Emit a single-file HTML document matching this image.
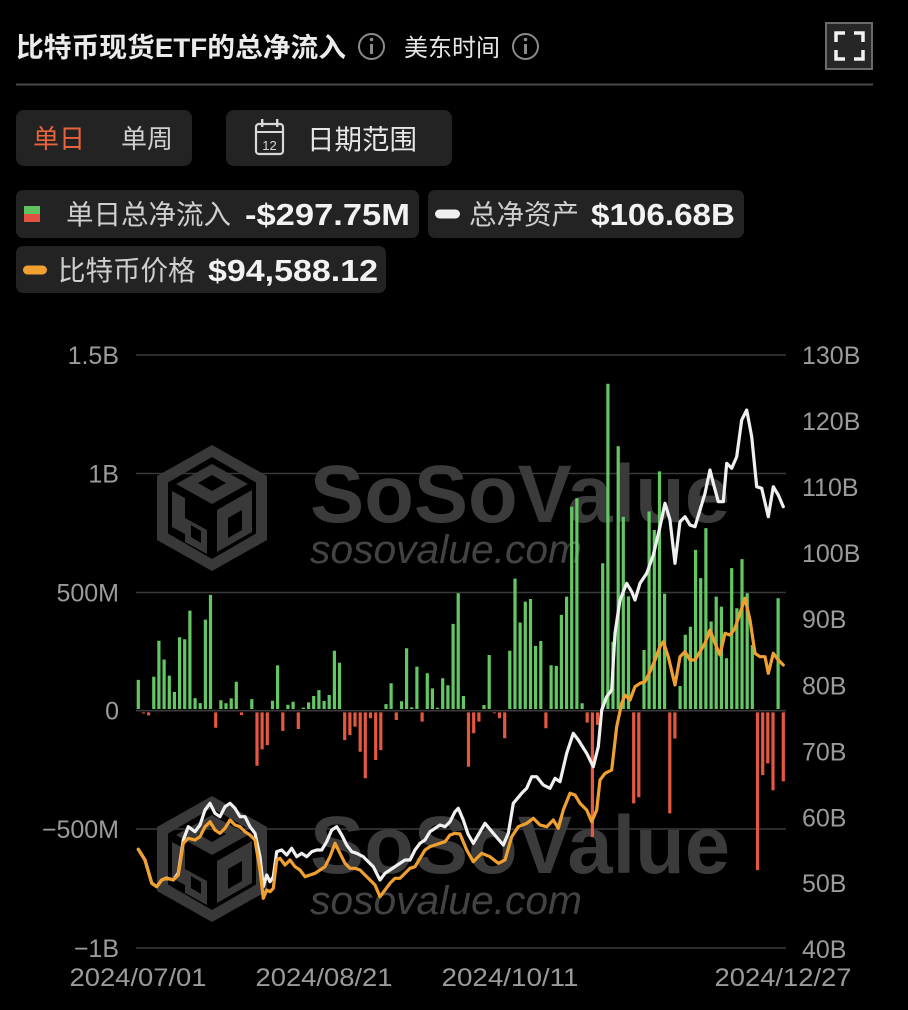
<!DOCTYPE html>
<html><head><meta charset="utf-8"><style>
html,body{margin:0;padding:0;background:#000;}
svg{display:block;}
</style></head><body>
<svg width="908" height="1010" viewBox="0 0 908 1010" xmlns="http://www.w3.org/2000/svg" font-family="'Liberation Sans','Noto Sans CJK SC',sans-serif">
<rect width="908" height="1010" fill="#000"/>
<!-- header -->
<text x="16" y="57" font-size="27" font-weight="bold" fill="#ebebeb" textLength="330" lengthAdjust="spacingAndGlyphs">比特币现货ETF的总净流入</text>
<circle cx="371.5" cy="46.5" r="12.5" fill="none" stroke="#8a8a8a" stroke-width="2"/>
<rect x="370" y="44" width="3" height="10" fill="#8a8a8a"/><circle cx="371.5" cy="39.5" r="1.8" fill="#8a8a8a"/>
<text x="404" y="56" font-size="24" fill="#e6e6e6">美东时间</text>
<circle cx="525.5" cy="46.5" r="12.5" fill="none" stroke="#8a8a8a" stroke-width="2"/>
<rect x="524" y="44" width="3" height="10" fill="#8a8a8a"/><circle cx="525.5" cy="39.5" r="1.8" fill="#8a8a8a"/>
<rect x="826" y="23" width="46" height="46" fill="#262626" stroke="#6a6a6a" stroke-width="2"/>
<path d="M836 42V33H845 M854 33H863V42 M836 50V59H845 M854 59H863V50" fill="none" stroke="#f2f2f2" stroke-width="3.5"/>
<rect x="16" y="83.5" width="857" height="2" fill="#4a4a4a"/>
<!-- buttons -->
<rect x="16" y="110" width="176" height="56" rx="8" fill="#232323"/>
<text x="33" y="148" font-size="26" fill="#e8643c">单日</text>
<text x="121" y="148" font-size="26" fill="#cfcfcf">单周</text>
<rect x="226" y="110" width="226" height="56" rx="8" fill="#232323"/>
<rect x="256" y="124" width="27" height="30" rx="3" fill="none" stroke="#d8d8d8" stroke-width="2.2"/>
<line x1="256" y1="132" x2="283" y2="132" stroke="#d8d8d8" stroke-width="2"/>
<rect x="261" y="119" width="2.4" height="8" fill="#d8d8d8"/><rect x="276" y="119" width="2.4" height="8" fill="#d8d8d8"/>
<text x="269.5" y="150" font-size="13" fill="#d8d8d8" text-anchor="middle">12</text>
<text x="307" y="149" font-size="27.5" fill="#e6e6e6">日期范围</text>
<!-- legend -->
<rect x="16" y="190" width="403" height="48" rx="7" fill="#232323"/>
<rect x="24" y="206" width="16" height="8" fill="#5ec25e"/><rect x="24" y="214" width="16" height="8" fill="#e2533f"/>
<text x="66" y="224" font-size="27.5" fill="#cfcfcf">单日总净流入</text>
<text x="245" y="225" font-size="31" font-weight="bold" fill="#f2f2f2" textLength="165" lengthAdjust="spacingAndGlyphs">-$297.75M</text>
<rect x="428" y="190" width="316" height="48" rx="7" fill="#232323"/>
<rect x="435" y="209.5" width="25" height="9" rx="4.5" fill="#f0f0f0"/>
<text x="469" y="224" font-size="27.5" fill="#cfcfcf">总净资产</text>
<text x="591" y="225" font-size="31" font-weight="bold" fill="#f2f2f2" textLength="144" lengthAdjust="spacingAndGlyphs">$106.68B</text>
<rect x="16" y="246" width="370" height="47" rx="7" fill="#232323"/>
<rect x="23" y="265.5" width="24" height="9" rx="4.5" fill="#f0a030"/>
<text x="58" y="280" font-size="27.5" fill="#cfcfcf">比特币价格</text>
<text x="208" y="281" font-size="31" font-weight="bold" fill="#f2f2f2" textLength="170" lengthAdjust="spacingAndGlyphs">$94,588.12</text>
<!-- watermarks -->
<g id="wm">
<g transform="translate(212,508)">
<polygon points="0,-63 55,-32 55,32 0,63 -55,32 -55,-32" fill="#393939"/>
<polygon points="0,-51 44,-25.5 44,25.5 0,51 -44,25.5 -44,-25.5" fill="#000"/>
<polygon points="0,-44 36,-24 0,-4 -36,-24" fill="#393939"/>
<polygon points="0,-33 14,-25 0,-17 -14,-25" fill="#000"/>
<polygon points="-40,-17 -27,-10 -27,26 -40,19" fill="#393939"/>
<polygon points="-27,10 -5,22 -5,46 -27,34" fill="#393939"/>
<polygon points="-21,17 -11,23 -11,35 -21,29" fill="#000"/>
<polygon points="5,2 40,-18 40,24 5,44" fill="#393939"/>
<polygon points="16,10 30,2 30,22 16,30" fill="#000"/>
</g>
<text x="310" y="522" font-size="82" font-weight="bold" fill="#3b3b3b" textLength="420" lengthAdjust="spacingAndGlyphs">SoSoValue</text>
<text x="310" y="563" font-size="40" font-style="italic" fill="#434343" textLength="272" lengthAdjust="spacingAndGlyphs">sosovalue.com</text>
</g>
<use href="#wm" transform="translate(0,351)"/>
<!-- gridlines -->
<g stroke="#3a3a3a" stroke-width="1.6">
<line x1="136" y1="355" x2="786" y2="355"/>
<line x1="136" y1="473.5" x2="786" y2="473.5"/>
<line x1="136" y1="592.5" x2="786" y2="592.5"/>
<line x1="136" y1="710.7" x2="786" y2="710.7"/>
<line x1="136" y1="829" x2="786" y2="829"/>
<line x1="136" y1="948" x2="786" y2="948"/>
</g>
<!-- axis labels -->
<g font-size="25" fill="#9b9b9b">
<g text-anchor="end">
<text x="119" y="364">1.5B</text>
<text x="119" y="482.5">1B</text>
<text x="119" y="601.5">500M</text>
<text x="119" y="719.7">0</text>
<text x="119" y="838">−500M</text>
<text x="119" y="957">−1B</text>
</g>
<text x="802" y="364">130B</text>
<text x="802" y="430">120B</text>
<text x="802" y="496">110B</text>
<text x="802" y="562">100B</text>
<text x="802" y="628">90B</text>
<text x="802" y="694.5">80B</text>
<text x="802" y="760.5">70B</text>
<text x="802" y="826.5">60B</text>
<text x="802" y="892">50B</text>
<text x="802" y="958">40B</text>
<g text-anchor="middle">
<text x="138" y="986" textLength="137" lengthAdjust="spacingAndGlyphs">2024/07/01</text>
<text x="324" y="986" textLength="137" lengthAdjust="spacingAndGlyphs">2024/08/21</text>
<text x="510" y="986" textLength="137" lengthAdjust="spacingAndGlyphs">2024/10/11</text>
<text x="783" y="986" textLength="137" lengthAdjust="spacingAndGlyphs">2024/12/27</text>
</g>
</g>
<!-- bars -->
<path fill="none" stroke="#63c863" stroke-width="3.2" d="M138.3 709V679.9M153.8 709V676.8M158.9 709V640.7M164.1 709V659.5M169.3 709V675.6M174.4 709V692M179.6 709V637.2M184.7 709V639.3M189.9 709V610.6M195.1 709V698.1M200.2 709V703.1M205.4 709V619.6M210.5 709V594.9M220.9 709V700.3M226 709V703.3M231.2 709V698.4M236.3 709V681.8M251.8 709V699.1M272.5 709V700.7M277.6 709V665.4M287.9 709V704.8M293.1 709V701.7M303.4 709V707.6M308.6 709V702.4M313.7 709V696M318.9 709V690.1M324.1 709V701M329.2 709V695M334.4 709V650.7M339.5 709V662.8M386 709V704.1M391.1 709V683.2M401.5 709V701.2M406.6 709V648.3M411.8 709V707.4M416.9 709V666.6M427.3 709V673.2M432.4 709V688.4M437.6 709V707.7M442.7 709V678.2M447.9 709V685.3M453.1 709V623.9M458.2 709V593.3M463.4 709V696M484 709V705M489.2 709V655M509.8 709V650.7M515 709V578.6M520.1 709V622.5M525.3 709V601.6M530.5 709V599M535.6 709V645.9M540.8 709V641M551.1 709V665.2M556.3 709V665.9M561.4 709V614.9M566.6 709V596.6M571.7 709V506.7M576.9 709V498.2M582.1 709V703.3M602.7 709V563.2M607.9 709V383.8M613 709V641.7M618.2 709V446.2M623.3 709V516.9M628.5 709V596.4M644 709V650M649.1 709V511.5M654.3 709V530M659.5 709V471.4M664.6 709V593.8M680.1 709V686M685.3 709V634.8M690.4 709V626.7M695.6 709V549.9M700.7 709V578.1M705.9 709V528.1M711.1 709V621.5M716.2 709V596.6M721.4 709V606.6M726.5 709V658.3M731.7 709V568.1M736.9 709V608.2M742 709V559.1M747.2 709V593.3M752.3 709V645M778.1 709V598.3"/>
<path fill="none" stroke="#e45741" stroke-width="3.2" d="M143.5 712.4V713.5M148.6 712.4V715.4M215.7 712.4V727.8M241.5 712.4V715M257 712.4V765.7M262.1 712.4V749.4M267.3 712.4V745.1M282.8 712.4V730.9M298.3 712.4V729M344.7 712.4V740.1M349.9 712.4V735.1M355 712.4V726.6M360.2 712.4V751.7M365.3 712.4V778.3M370.5 712.4V718.3M375.7 712.4V760M380.8 712.4V750.1M396.3 712.4V720M422.1 712.4V721.6M468.5 712.4V766.7M473.7 712.4V733.2M478.9 712.4V721.6M494.3 712.4V713.3M499.5 712.4V718.3M504.7 712.4V738.2M545.9 712.4V728.3M587.2 712.4V722.6M592.4 712.4V837.1M597.5 712.4V724.9M633.7 712.4V803.4M638.8 712.4V797.3M669.8 712.4V813.4M674.9 712.4V738.5M757.5 712.4V870.1M762.7 712.4V775M767.8 712.4V763.4M773 712.4V790.2M783.3 712.4V781.4"/>
<!-- white line: total net assets -->
<polyline fill="none" stroke="#f0f0f0" stroke-width="3.2" stroke-linejoin="round" stroke-linecap="round" points="138.3,849.3 145,860 151.7,883 156.7,886.7 161.7,880 166.7,878 173.3,880 178.3,873 183.3,840 188.3,826.7 195,831.7 200,825 205,810 210,803.3 215,813.3 220,816.7 225,806.7 230,803.3 235,808.3 240,816.7 245,816.7 250,826.7 255,833.3 260,856.7 263.3,886.7 266.7,875 270,881.7 273.3,876.7 276.7,851.7 281.7,850 286.7,855 291.7,848.3 296.7,856.7 301.7,853.3 306.7,856.7 311.7,851.7 316.7,850 321.7,850 326.7,841.7 331.7,830 336.7,826.7 341.7,835 346.7,845 351.7,851.7 356.7,853.3 363.3,856.7 368.3,861.7 373.3,866.7 380,880 385,873.3 390,870 395,866.7 400,863.3 405,860 410,860 415,850 420,843.3 425,840 430,831.7 435,828.3 440,825 445,826.7 450,821.7 455,811.7 458.3,808.3 463.3,820 468,834 473.3,843.3 485,823.3 493.3,833.3 503.3,845 508.3,833.3 513.3,803.3 521.7,793.3 526.7,788.3 531.7,776.7 536.7,776.7 543.3,785 550,788.3 555,778.3 560,781.7 566.7,753.3 573.3,733.3 578.3,740 586.7,753.3 593.3,766.7 598.3,746.7 601.7,710 606.7,696.7 611.7,690 615,633.3 620,600 626.7,583.3 631.7,591.7 635,600 640,583.3 646.7,573.3 653.3,555 660,526.7 665,503.3 670,520 675,563.3 680,521.7 685,516.7 690,525 695,526.7 700,510 705,493.3 710,470 713.3,483.3 718.3,501.7 723.3,501.7 726.7,463.3 731.7,468.3 736.7,456.7 741.7,420 746.7,410 751.7,436.7 756.7,486.7 761.7,488.3 768.3,516.7 773.3,486.7 778.3,495 783.3,506.7"/>
<!-- orange line: BTC price -->
<polyline fill="none" stroke="#f0a030" stroke-width="3.2" stroke-linejoin="round" stroke-linecap="round" points="138.3,849.3 145,860 151.7,883.3 156.7,886.7 161.7,880 166.7,878.3 173.3,880 178.3,875 183.3,843.3 188.3,838.3 195,840 200,836.7 205,826.7 210,821.7 215,830 220,833.3 225,828.3 230,820 235,825 240,826.7 245,831.7 250,835 255,840 260,870 263.3,898.3 266.7,890 270,891.7 273.3,888.3 276.7,860 280,858.3 285,865 290,860 295,866.7 300,870 305,876.7 310,875 315,873.3 320,870 325,866.7 330,856.7 335,843.3 340,853.3 345,863.3 350,868.3 355,868.3 360,870 365,875 370,880 375,885 380,896.7 385,890 390,883.3 395,878.3 400,878.3 405,873.3 410,868.3 415,866.7 420,858.3 425,850 430,846.7 435,845 440,843.3 445,841.7 450,835 455,833.3 460,834 466.7,850 473.3,861.7 481.7,853.3 490,856.7 498.3,863.3 505,860 511.7,836.7 518.3,826.7 526.7,823.3 533.3,818.3 540,825 546.7,826.7 553.3,820 558.3,828.3 563.3,810 570,793.3 575,795 580,803.3 586.7,810 591.7,821.7 596.7,810 600,780 605,773.3 611.7,770 616.7,726.7 621.7,703.3 625,695 630,700 635,686.7 640,683.3 645,681.7 650,671.7 655,660 660,646.7 663.3,641.7 668.3,656.7 675,685 680,656.7 685,651.7 690,660 695,660 700,651.7 705,643.3 710,630 715,643.3 720,655 725,633.3 730,635 735,628.3 740,613.3 745,598.3 750,620 755,653.3 760,656.7 765,656.7 768.3,673.3 773.3,653.3 778.3,660 783.3,665"/>
</svg>
</body></html>
